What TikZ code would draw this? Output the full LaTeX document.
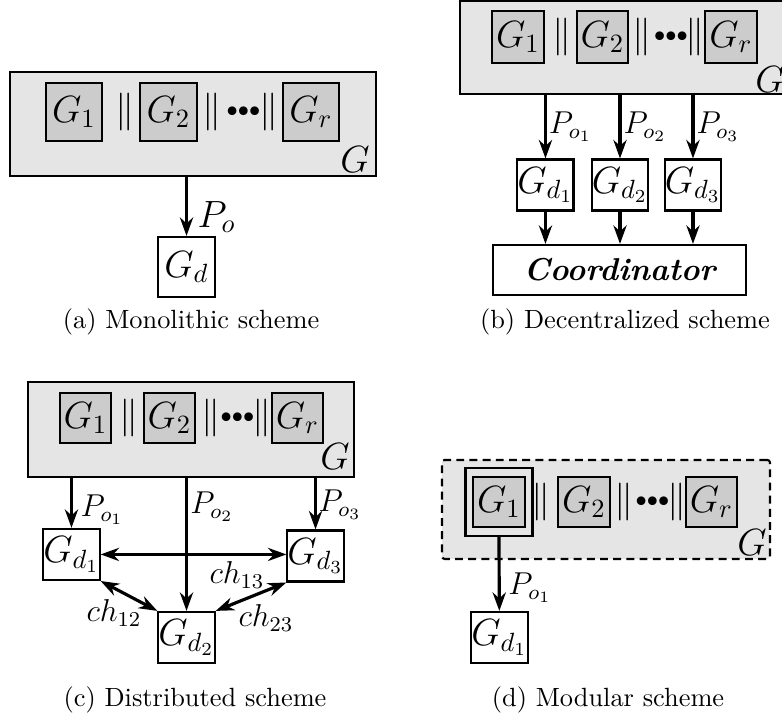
\documentclass[tikz,border=0pt]{standalone}
\usepackage{amssymb}
\usetikzlibrary{arrows.meta}

\begin{document}
\begin{tikzpicture}[
    plant/.style={draw,thick,fill=black!10,inner sep=0pt},
    sub/.style={draw,thick,fill=black!20,minimum width=0.69cm,minimum height=0.67cm,inner sep=0pt,font=\Large},
    loc/.style={draw,thick,fill=white,minimum width=0.68cm,minimum height=0.68cm,inner sep=0pt,font=\Large},
    flow/.style={-{Stealth[length=7pt,width=5pt]},very thick},
    chan/.style={{Stealth[length=7pt,width=5pt]}-{Stealth[length=7pt,width=5pt]},very thick},
    lbl/.style={anchor=west,font=\large,inner sep=0pt},
    bars/.style={font=\Large,inner sep=0pt},
    bullets/.style={font=\footnotesize,inner sep=0pt}]
  \useasboundingbox (0,0) rectangle (10.427,9.56);

  % (a) monolithic
  \node[plant,minimum width=4.88cm,minimum height=1.39cm] (Ga) at (2.573,7.907) {};
  \foreach \x/\t [count=\i] in {0.987/1,2.247/2,4.147/r}
    \node[sub,minimum width=0.75cm,minimum height=0.77cm] (a\i) at (\x,8.067) {$G_{\t}$};
  \node[bars] (aor1) at (1.667,8.067) {$\|$};
  \node[bars] (aor2) at (2.827,8.067) {$\|$};
  \node[bullets] (adots) at (3.247,8.067) {${\bullet}{\bullet}{\bullet}$};
  \node[bars] (aor3) at (3.587,8.067) {$\|$};
  \node[font=\Large,inner sep=0pt] (aG) at (4.733,7.427) {$G$};
  \node[loc,minimum width=0.76cm,minimum height=0.8cm] (ad) at (2.487,6.0) {$G_d$};
  \draw[flow] (ad |- Ga.south) -- (ad);
  \node[lbl,font=\Large] (apo) at (2.627,6.667) {$P_o$};
  \node (acap) at (2.547,5.267) {(a) Monolithic scheme};

  % (b) decentralized
  \node[plant,minimum width=4.4cm,minimum height=1.24cm] (Gb) at (8.333,8.927) {};
  \foreach \x/\t [count=\i] in {6.907/1,8.033/2,9.747/r}
    \node[sub,minimum height=0.69cm] (b\i) at (\x,9.067) {$G_{\t}$};
  \node[bars] (bor1) at (7.493,9.067) {$\|$};
  \node[bars] (bor2) at (8.56,9.067) {$\|$};
  \node[bullets] (bdots) at (8.947,9.067) {${\bullet}{\bullet}{\bullet}$};
  \node[bars] (bor3) at (9.267,9.067) {$\|$};
  \node[font=\Large,inner sep=0pt] (bG) at (10.267,8.493) {$G$};
  \node[draw,thick,minimum width=3.373cm,minimum height=0.667cm,font=\large\bfseries\itshape] (coord) at (8.26,5.96) {Coordinator};
  \foreach \x [count=\i] in {7.273,8.267,9.24}{
    \node[loc] (bd\i) at (\x,7.093) {$G_{d_{\i}}$};
    \draw[flow] (bd\i |- Gb.south) -- (bd\i);
    \draw[flow] (bd\i) -- (bd\i |- coord.north);
    \node[lbl] (bpo\i) at (\x+0.04,7.867) {$P_{o_{\i}}$};
  }
  \node (bcap) at (8.333,5.267) {(b) Decentralized scheme};

  % (c) distributed
  \node[plant,minimum width=4.347cm,minimum height=1.267cm] (Gc) at (2.547,3.833) {};
  \foreach \x/\t [count=\i] in {1.14/1,2.26/2,3.967/r}
    \node[sub] (c\i) at (\x,3.987) {$G_{\t}$};
  \node[bars] (cor1) at (1.72,3.987) {$\|$};
  \node[bars] (cor2) at (2.813,3.987) {$\|$};
  \node[bullets] (cdots) at (3.167,3.987) {${\bullet}{\bullet}{\bullet}$};
  \node[bars] (cor3) at (3.493,3.987) {$\|$};
  \node[font=\Large,inner sep=0pt] (cG) at (4.467,3.467) {$G$};
  \node[loc] (cd1) at (0.953,2.167) {$G_{d_1}$};
  \node[loc] (cd2) at (2.487,1.06) {$G_{d_2}$};
  \node[loc] (cd3) at (4.207,2.147) {$G_{d_3}$};
  \draw[chan] (cd1.east) -- (cd1.east -| cd3.west);
  \draw[chan] (cd1.south east) -- (cd2.north west);
  \draw[chan] (cd3.south west) -- (cd2.north east);
  \foreach \i in {1,2,3}
    \draw[flow] (cd\i |- Gc.south) -- (cd\i);
  \node[lbl] (cpo1) at (1.067,2.76) {$P_{o_1}$};
  \node[lbl] (cpo2) at (2.533,2.8) {$P_{o_2}$};
  \node[lbl] (cpo3) at (4.24,2.827) {$P_{o_3}$};
  \node[font=\large,inner sep=0pt] (cch13) at (3.16,1.893) {$ch_{13}$};
  \node[font=\large,inner sep=0pt] (cch12) at (1.52,1.387) {$ch_{12}$};
  \node[font=\large,inner sep=0pt] (cch23) at (3.547,1.32) {$ch_{23}$};
  \node (ccap) at (2.6,0.227) {(c) Distributed scheme};

  % (d) modular
  \node[plant,dash pattern=on 3pt off 2pt,rounded corners=1pt,minimum width=4.373cm,minimum height=1.32cm] (Gd) at (8.08,2.767) {};
  \node[draw,thick,minimum width=0.893cm,minimum height=0.907cm] (mod) at (6.653,2.867) {};
  \foreach \x/\t [count=\i] in {6.653/1,7.787/2,9.487/r}
    \node[sub] (d\i) at (\x,2.867) {$G_{\t}$};
  \node[bars] (dor1) at (7.213,2.867) {$\|$};
  \node[bars] (dor2) at (8.32,2.867) {$\|$};
  \node[bullets] (ddots) at (8.7,2.867) {${\bullet}{\bullet}{\bullet}$};
  \node[bars] (dor3) at (9.027,2.867) {$\|$};
  \node[font=\Large,inner sep=0pt] (dG) at (10.027,2.32) {$G$};
  \node[loc,minimum width=0.71cm] (dd1) at (6.66,1.06) {$G_{d_1}$};
  \draw[flow] (mod.south) -- (dd1);
  \node[lbl] (dpo1) at (6.773,1.72) {$P_{o_1}$};
  \node (dcap) at (8.107,0.227) {(d) Modular scheme};
\end{tikzpicture}
\end{document}
